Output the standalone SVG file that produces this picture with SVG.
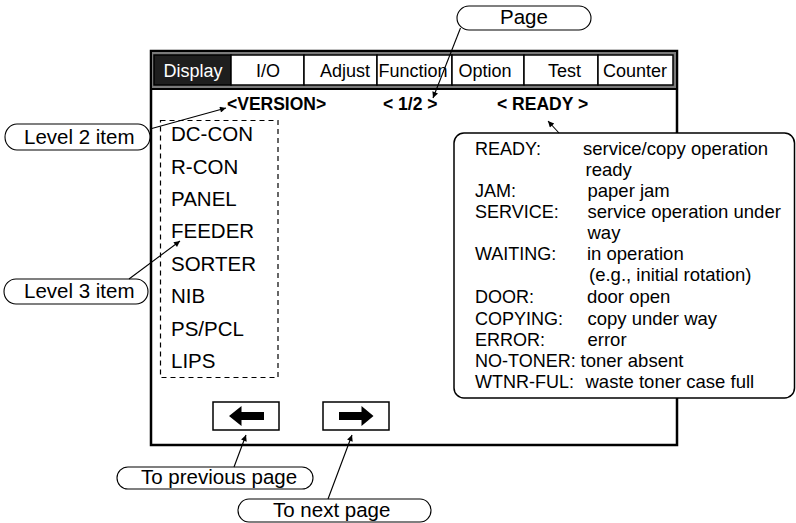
<svg xmlns="http://www.w3.org/2000/svg" width="796" height="523" viewBox="0 0 796 523">
<defs>
<style>
text{font-family:"Liberation Sans",Arial,Helvetica,sans-serif;fill:#000}
.tab{fill:#fff;stroke:#000;stroke-width:1.5}
.tabt{font-size:18px;text-anchor:middle}
.hdr{font-size:17.5px;font-weight:bold}
.item{font-size:20.5px}
.st{font-size:18.5px}
.sl{font-size:18px}
.pill{fill:#fff;stroke:#000;stroke-width:1.1}
.pt{font-size:20.5px}
.lead{stroke:#000;stroke-width:1.1;fill:none;marker-end:url(#ah)}
.btn{fill:#fff;stroke:#000;stroke-width:1.5}
</style>
<marker id="ah" viewBox="0 0 10 10" refX="10" refY="5" markerWidth="8" markerHeight="6" markerUnits="userSpaceOnUse" orient="auto">
<path d="M0,0 L10,5 L0,10 Z" fill="#000"/>
</marker>
</defs>

<g id="screen">
<rect x="151" y="51" width="526" height="394" fill="#fff" stroke="#000" stroke-width="2.5"/>
<rect x="151" y="51" width="526" height="38" fill="#7a7a7a" stroke="#000" stroke-width="2"/>
</g>

<g id="tabs">
<rect x="154" y="55" width="77" height="30" fill="#1e1e1e" stroke="#000" stroke-width="1.5"/>
<text class="tabt" x="193" y="77" style="fill:#fff">Display</text>
<rect class="tab" x="231" y="55" width="73" height="30"/>
<text class="tabt" x="268" y="77">I/O</text>
<rect class="tab" x="304" y="55" width="73" height="30"/>
<text class="tabt" x="345" y="77">Adjust</text>
<rect class="tab" x="377" y="55" width="75" height="30"/>
<text class="tabt" x="378.5" y="77" style="text-anchor:start">Function</text>
<rect class="tab" x="452" y="55" width="72" height="30"/>
<text class="tabt" x="485" y="77">Option</text>
<rect class="tab" x="524" y="55" width="74" height="30"/>
<text class="tabt" x="564.5" y="77">Test</text>
<rect class="tab" x="598" y="55" width="75" height="30"/>
<text class="tabt" x="635" y="77">Counter</text>
</g>

<g id="header">
<text class="hdr" x="227" y="110">&lt;VERSION&gt;</text>
<text class="hdr" x="383" y="110">&lt; 1/2 &gt;</text>
<text class="hdr" x="497" y="110">&lt; READY &gt;</text>
</g>

<g id="level3-list">
<rect x="160.5" y="120.5" width="117.5" height="257" fill="none" stroke="#000" stroke-width="1.2" stroke-dasharray="5,4"/>
<text class="item" x="171" y="141">DC-CON</text>
<text class="item" x="171" y="173.5">R-CON</text>
<text class="item" x="171" y="206">PANEL</text>
<text class="item" x="171" y="238">FEEDER</text>
<text class="item" x="171" y="270.5">SORTER</text>
<text class="item" x="171" y="303">NIB</text>
<text class="item" x="171" y="335.5">PS/PCL</text>
<text class="item" x="171" y="368">LIPS</text>
</g>

<g id="status-box">
<rect x="454" y="133" width="340.5" height="265" rx="10" ry="10" fill="#fff" stroke="#000" stroke-width="1.5"/>
<text class="sl" x="475" y="155">READY:</text><text class="st" x="583" y="155">service/copy operation</text>
<text class="st" x="585.5" y="176">ready</text>
<text class="sl" x="475" y="197">JAM:</text><text class="st" x="587.5" y="197">paper jam</text>
<text class="sl" x="475" y="218">SERVICE:</text><text class="st" x="587.5" y="218">service operation under</text>
<text class="st" x="587.5" y="239">way</text>
<text class="sl" x="475" y="260">WAITING:</text><text class="st" x="587" y="260">in operation</text>
<text class="st" x="589" y="281">(e.g., initial rotation)</text>
<text class="sl" x="475" y="303">DOOR:</text><text class="st" x="587" y="303">door open</text>
<text class="sl" x="475" y="325">COPYING:</text><text class="st" x="587.5" y="325">copy under way</text>
<text class="sl" x="475" y="346">ERROR:</text><text class="st" x="587.5" y="346">error</text>
<text class="sl" x="475" y="367">NO-TONER:</text><text class="st" x="580.5" y="367">toner absent</text>
<text class="sl" x="475" y="388">WTNR-FUL:</text><text class="st" x="585.5" y="388">waste toner case full</text>
</g>

<g id="btn-prev">
<rect class="btn" x="213" y="402" width="66" height="28"/>
<path d="M229,416 L241.5,406 L241.5,412 L264,412 L264,420 L241.5,420 L241.5,426 Z" fill="#000"/>
</g>
<g id="btn-next">
<rect class="btn" x="323" y="402" width="66" height="28"/>
<path d="M373.5,416 L361.5,406 L361.5,412 L339,412 L339,420 L361.5,420 L361.5,426 Z" fill="#000"/>
</g>

<g id="callout-page">
<rect class="pill" x="457" y="6" width="134" height="24" rx="12" ry="12"/>
<text class="pt" x="524" y="24" text-anchor="middle">Page</text>
</g>
<g id="callout-level2">
<rect class="pill" x="5" y="124" width="145" height="26" rx="12" ry="13"/>
<text class="pt" x="24" y="144">Level 2 item</text>
</g>
<g id="callout-level3">
<rect class="pill" x="4" y="279" width="144" height="25" rx="12" ry="12.5"/>
<text class="pt" x="24" y="298">Level 3 item</text>
</g>
<g id="callout-prev">
<rect class="pill" x="117" y="467" width="196" height="22" rx="11" ry="11"/>
<text class="pt" x="141" y="484">To previous page</text>
</g>
<g id="callout-next">
<rect class="pill" x="238" y="499" width="193" height="23" rx="11" ry="11.5"/>
<text class="pt" x="273" y="517">To next page</text>
</g>

<g id="connectors">
<line class="lead" x1="150" y1="129" x2="226" y2="108"/>
<line class="lead" x1="129" y1="279" x2="180" y2="241"/>
<line class="lead" x1="460.5" y1="28" x2="433" y2="98"/>
<line class="lead" x1="559" y1="133" x2="548" y2="121"/>
<line class="lead" x1="234" y1="467" x2="246" y2="435"/>
<line class="lead" x1="328" y1="499" x2="352" y2="435"/>
</g>
</svg>
